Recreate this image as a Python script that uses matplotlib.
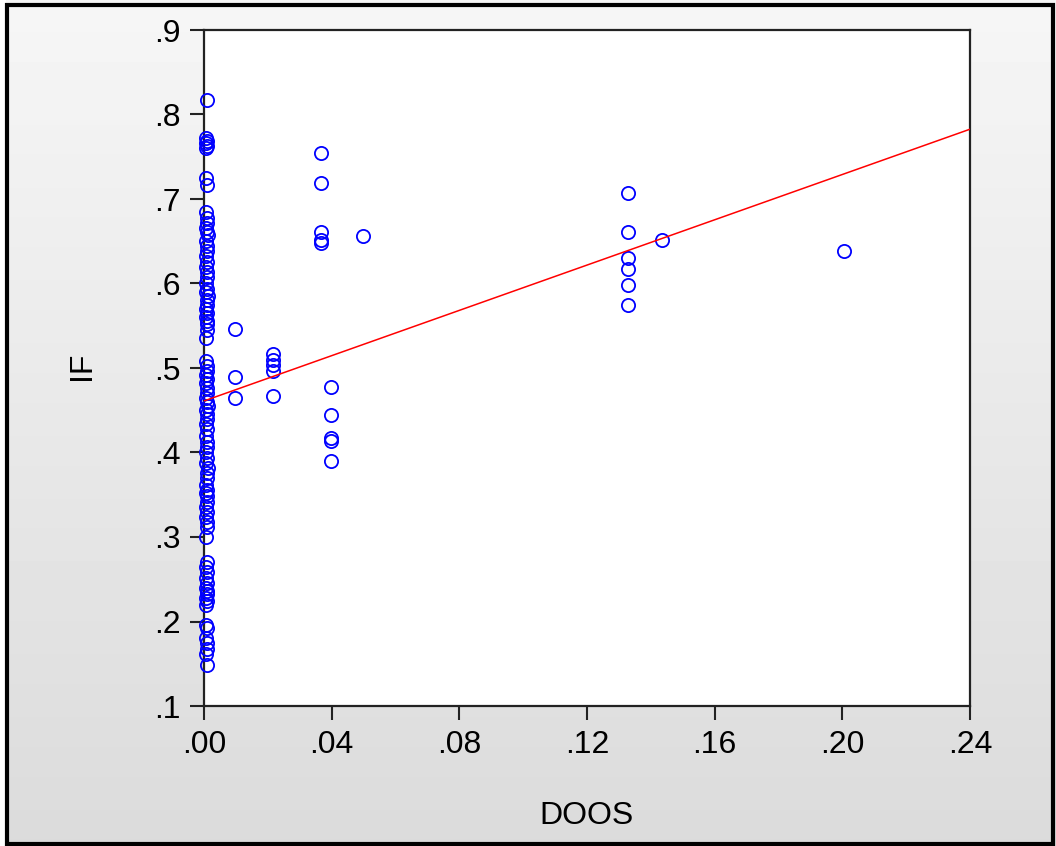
import numpy as np
import matplotlib
matplotlib.use("Agg")
import matplotlib.pyplot as plt
from matplotlib.patches import Rectangle

plt.rcParams['font.family'] = ['Liberation Sans', 'DejaVu Sans']

# DOOS = 0 column (slightly spread around zero)
doos_zero = [0.0008,
             0.0006, 0.0008, 0.0005, 0.0009, 0.0007,
             0.0006, 0.0008,
             0.0005, 0.0008, 0.0010, 0.0006, 0.0009, 0.0011,
             0.0005, 0.0008, 0.0010, 0.0006, 0.0009, 0.0005, 0.0008, 0.0010,
             0.0006, 0.0009, 0.0005, 0.0011, 0.0008, 0.0010, 0.0005, 0.0009, 0.0006, 0.0010, 0.0008,
             0.0009, 0.0006,
             0.0005, 0.0008, 0.0010, 0.0006, 0.0009, 0.0005, 0.0008, 0.0010, 0.0006, 0.0009, 0.0011, 0.0005, 0.0008, 0.0010, 0.0006, 0.0009,
             0.0005, 0.0008, 0.0010, 0.0006, 0.0009, 0.0005, 0.0011, 0.0008, 0.0010,
             0.0005, 0.0009, 0.0006, 0.0010, 0.0008, 0.0005, 0.0009, 0.0006, 0.0010, 0.0008, 0.0005,
             0.0008, 0.0005, 0.0010, 0.0006, 0.0009, 0.0005, 0.0008, 0.0010, 0.0006, 0.0009, 0.0005,
             0.0006, 0.0009, 0.0005, 0.0008, 0.0010, 0.0006, 0.0008]
if_zero = [0.817,
           0.772, 0.769, 0.766, 0.763, 0.760,
           0.725, 0.716,
           0.685, 0.678, 0.672, 0.666, 0.661, 0.657,
           0.650, 0.644, 0.638, 0.632, 0.626, 0.620, 0.614, 0.608,
           0.600, 0.594, 0.590, 0.585, 0.580, 0.575, 0.570, 0.565, 0.560, 0.556, 0.552,
           0.545, 0.535,
           0.508, 0.502, 0.497, 0.492, 0.487, 0.482, 0.476, 0.470, 0.465, 0.460, 0.455, 0.450, 0.445, 0.440, 0.434, 0.428,
           0.420, 0.412, 0.406, 0.400, 0.394, 0.388, 0.382, 0.376, 0.370,
           0.362, 0.356, 0.352, 0.348, 0.342, 0.336, 0.330, 0.324, 0.318, 0.312, 0.300,
           0.270, 0.264, 0.258, 0.252, 0.246, 0.240, 0.236, 0.232, 0.228, 0.224, 0.220,
           0.196, 0.192, 0.180, 0.174, 0.168, 0.162, 0.148]

# other firms
doos_rest = [0.0097, 0.0097, 0.0097,
             0.0216, 0.0216, 0.0216, 0.0216, 0.0216,
             0.0367, 0.0367, 0.0367, 0.0367, 0.0367,
             0.0398, 0.0398, 0.0398, 0.0398, 0.0398,
             0.0499,
             0.1328, 0.1328, 0.1328, 0.1328, 0.1328, 0.1328,
             0.1435, 0.2006]
if_rest = [0.546, 0.489, 0.464,
           0.516, 0.509, 0.503, 0.497, 0.467,
           0.754, 0.719, 0.661, 0.651, 0.648,
           0.477, 0.444, 0.417, 0.414, 0.390,
           0.656,
           0.707, 0.661, 0.630, 0.617, 0.598, 0.575,
           0.651, 0.638]

fit_intercept = 0.461
fit_slope = 1.34

xticks = [0.00, 0.04, 0.08, 0.12, 0.16, 0.20, 0.24]
xticklabels = ['.00', '.04', '.08', '.12', '.16', '.20', '.24']
yticks = [0.1, 0.2, 0.3, 0.4, 0.5, 0.6, 0.7, 0.8, 0.9]
yticklabels = ['.1', '.2', '.3', '.4', '.5', '.6', '.7', '.8', '.9']

W, H = 1056, 846
fig = plt.figure(figsize=(W / 100, H / 100), dpi=100)

# gray gradient background
bg = fig.add_axes([0, 0, 1, 1], zorder=-10)
grad = np.linspace(246, 219, 256).reshape(-1, 1)
bg.imshow(np.repeat(grad, 2, axis=1), cmap='gray', vmin=0, vmax=255,
          aspect='auto', extent=[0, 1, 0, 1])
bg.set_axis_off()
fig.patches.append(Rectangle((7 / W, 2 / H), (1053 - 7) / W, (841 - 2) / H,
                             transform=fig.transFigure, fill=False,
                             edgecolor='black', linewidth=3))
fig.patches.append(Rectangle((0, 0), 6 / W, 1, transform=fig.transFigure,
                             facecolor='white', edgecolor='none', zorder=-5))

ax = fig.add_axes([204 / W, 1 - 706 / H, (970 - 204) / W, (706 - 30) / H])
ax.set_facecolor('white')

ax.plot(doos_zero + doos_rest, if_zero + if_rest, linestyle='none', marker='o',
        markersize=9.5, markerfacecolor='none', markeredgecolor='#0000ff',
        markeredgewidth=1.3, clip_on=False, zorder=3)

xl = np.array([0.0, 0.24])
ax.plot(xl, fit_intercept + fit_slope * xl, color='#ff0000', linewidth=1.1, zorder=4)

ax.set_xlim(0, 0.24)
ax.set_ylim(0.1, 0.9)
ax.set_xticks(xticks)
ax.set_xticklabels(xticklabels)
ax.set_yticks(yticks)
ax.set_yticklabels(yticklabels)
ax.tick_params(direction='out', length=10, width=1.5, labelsize=23, pad=7, color='#222222')
for s in ax.spines.values():
    s.set_linewidth(1.6)
    s.set_color('#222222')

fig.text(82 / W, 1 - 366 / H, 'IF', rotation=90, fontsize=23, ha='center', va='center')
fig.text(587 / W, 1 - 816 / H, 'DOOS', fontsize=23, ha='center', va='center')

fig.savefig('out.png', dpi=100)
